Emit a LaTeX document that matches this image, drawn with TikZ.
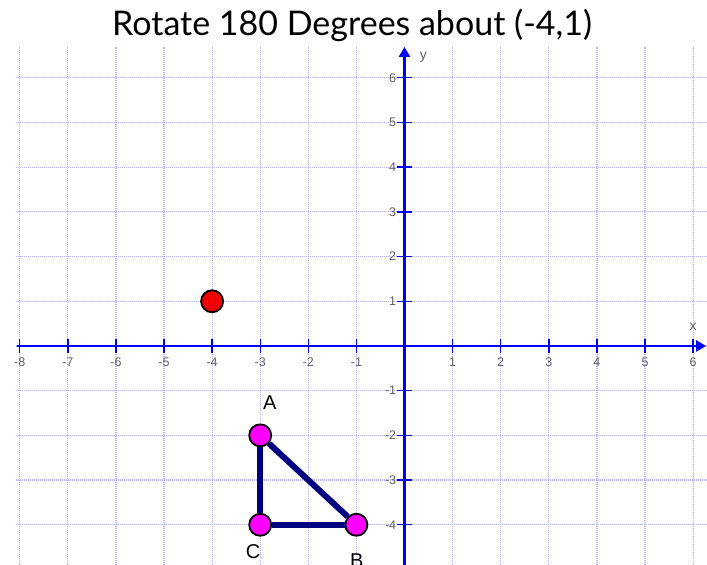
\documentclass[tikz,border=0pt]{standalone}
\usepackage{fontspec}
\setmainfont{Liberation Sans}
\newfontfamily\titlefont{Lato}
\usetikzlibrary{arrows.meta}
\definecolor{gridc}{RGB}{180,180,255}
\definecolor{axisc}{RGB}{0,0,255}
\definecolor{tric}{RGB}{0,0,128}
\definecolor{magc}{RGB}{255,0,255}
\definecolor{redc}{RGB}{240,0,0}
\definecolor{labc}{RGB}{95,95,95}
\tikzset{
  gridline/.style={gridc, line width=1.2pt, dash pattern=on 1pt off 1pt},
  axisline/.style={axisc, line width=2.4pt, -{Triangle[length=10pt,width=11pt]}},
  tickline/.style={axisc, line width=1.4pt},
  ticklab/.style={text=labc, font=\fontsize{12.5}{12.5}\selectfont, inner sep=0pt},
  axislab/.style={text=labc, font=\fontsize{14}{14}\selectfont, inner sep=0pt},
  dotpt/.style={circle, draw=black, line width=1.8pt, minimum size=22pt, inner sep=0pt},
  triedge/.style={tric, line width=6pt},
  ptlab/.style={font=\fontsize{20}{20}\selectfont, inner sep=0pt},
}
\begin{document}
\begin{tikzpicture}[x=48.1pt,y=44.7pt]
\useasboundingbox (-8.41,-4.899) rectangle (6.289,7.740);
\fill[white] (-8.41,-4.899) rectangle (6.289,7.740);
% grid
\foreach \i in {-8,...,6} \draw[gridline] (\i,-4.899) -- (\i,6.69);
\foreach \j in {-4,...,6} \draw[gridline] (-8.08,\j) -- (6.289,\j);
% axes
\coordinate (xs) at (-8.06,0);
\coordinate (xe) at (6.27,0);
\coordinate (ys) at (0,-4.899);
\coordinate (ye) at (0,6.69);
\draw[axisline] (xs) -- (xe);
\draw[axisline] (ys) -- (ye);
% ticks and labels
\foreach \i in {-8,...,-1,1,2,...,6} {
  \draw[tickline] (\i,-0.157) -- (\i,0.157);
  \node[ticklab] (xl\i) at (\i,-0.37) {\i};
}
\foreach \j in {-4,...,-1,1,2,...,6} {
  \draw[tickline] (-0.146,\j) -- (0.146,\j);
  \node[ticklab, anchor=east] (yl\j) at (-0.17,\j) {\j};
}
\node[axislab] (xlab) at (6.0,0.42) {x};
\node[axislab] (ylab) at (0.39,6.47) {y};
% title
\node[font=\titlefont\fontsize{34}{34}\selectfont, inner sep=0pt] (title) at (-1.09,7.18) {Rotate 180 Degrees about (-4,1)};
% points
\node[dotpt, fill=redc] (R) at (-4,1) {};
\node[dotpt, fill=magc] (A) at (-3,-2) {};
\node[dotpt, fill=magc] (B) at (-1,-4) {};
\node[dotpt, fill=magc] (C) at (-3,-4) {};
\draw[triedge] (A) -- (B);
\draw[triedge] (B) -- (C);
\draw[triedge] (C) -- (A);
\node[ptlab] (Al) at (-2.80,-1.27) {A};
\node[ptlab] (Cl) at (-3.15,-4.59) {C};
\node[ptlab] (Bl) at (-0.99,-4.80) {B};
\end{tikzpicture}
\end{document}
